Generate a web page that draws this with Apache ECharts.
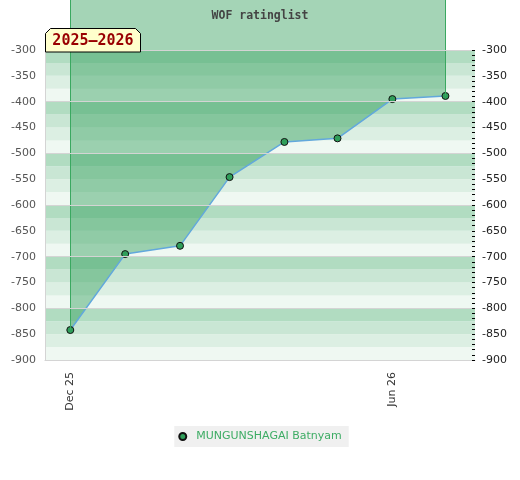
<!DOCTYPE html>
<html>
<head>
<meta charset="utf-8">
<script src="https://cdn.jsdelivr.net/npm/echarts@6/dist/echarts.min.js"></script>
<style>html,body{margin:0;padding:0;background:#fff}#c{width:520px;height:480px}</style>
</head>
<body>
<div id="c"></div>
<script>
// ---- data ----
const seriesName = 'MUNGUNSHAGAI Batnyam';
const chartTitle = 'WOF ratinglist';
const seasonLabel = '2025–2026';
const months = [[2025,11,1],[2026,0,1],[2026,1,1],[2026,2,1],[2026,3,1],[2026,4,1],[2026,5,1],[2026,6,1]];
const ratings = [-842, -695, -679, -546, -478, -471, -395, -389];
const xTickDates = [[2025,11,1],[2026,5,1]];
const xTickLabels = ['Dec 25', 'Jun 26'];
const yLabelValues = [-900,-850,-800,-750,-700,-650,-600,-550,-500,-450,-400,-350,-300];
const bandColors = ['#eff8f2', '#dcefe3', '#c9e6d4', '#b1dcc1'];

// ---- build ----
const ts = d => new Date(d[0], d[1], d[2]).getTime();
const DAY = 86400000;
const xMin = ts(months[0]) - 14.3 * DAY;
const xMax = ts(months[6]) + 46.7 * DAY;
const yMin = -900, yTop = -300;
const yMax = yTop + 50 * (600 / 310);
const points = months.map((m, i) => [ts(m), ratings[i]]);
const xTickTs = xTickDates.map(ts);

const bands = [];
for (let v = yMin, i = 0; v < yTop; v += 25, i++) {
  bands.push([{ yAxis: v, itemStyle: { color: bandColors[i % 4] } }, { yAxis: v + 25 }]);
}
const gridLines = [];
for (let v = yMin; v <= yTop; v += 100) gridLines.push({ yAxis: v });
gridLines.push([{ coord: [xMin, yTop] }, { coord: [xMin, yMin] }]);

const chart = echarts.init(document.getElementById('c'), null, { renderer: 'canvas' });
chart.setOption({
  animation: false,
  textStyle: { fontFamily: 'DejaVu Sans' },
  title: {
    text: chartTitle, left: 'center', top: 5,
    textStyle: { fontFamily: 'DejaVu Sans Mono', fontWeight: 'bold', fontSize: 11.5, color: '#444' }
  },
  grid: [
    { left: 45, right: 45, top: 0, bottom: 120 },
    { left: 45, right: 45, top: 50, bottom: 120 }
  ],
  legend: {
    bottom: 33, left: 'center',
    data: [seriesName],
    icon: 'circle', itemWidth: 13, itemHeight: 7,
    backgroundColor: '#f0f0f0', padding: [4, 7, 4, 4],
    textStyle: { color: '#3dac64', fontSize: 11, lineHeight: 13, padding: [0, 0, 0, 2] }
  },
  xAxis: [
    {
      type: 'value', min: xMin, max: xMax, gridIndex: 0,
      axisLine: { show: true, lineStyle: { color: '#d0d0d0' } },
      axisTick: { show: false },
      splitLine: { show: false },
      axisLabel: {
        customValues: xTickTs, rotate: 90, margin: 12, fontSize: 11, color: '#333',
        formatter: v => { const i = xTickTs.indexOf(v); return i >= 0 ? xTickLabels[i] : ''; }
      }
    },
    { type: 'value', gridIndex: 1, min: 0, max: 1, show: false }
  ],
  yAxis: [
    {
      type: 'value', min: yMin, max: yMax, position: 'left', gridIndex: 0,
      axisLine: { show: false }, axisTick: { show: false }, splitLine: { show: false },
      axisLabel: { customValues: yLabelValues, margin: 9, fontSize: 11, color: '#555' }
    },
    {
      type: 'value', min: yMin, max: yTop, interval: 10, position: 'right', gridIndex: 1, z: 10,
      axisLine: { show: false, onZero: false }, splitLine: { show: false },
      axisTick: { show: true, inside: true, length: 3, lineStyle: { color: '#000' } },
      axisLabel: {
        margin: 7, fontSize: 11, color: '#222',
        formatter: v => (yLabelValues.indexOf(v) >= 0 ? String(v) : '')
      }
    }
  ],
  series: [
    {
      name: seriesName, type: 'line', data: points, z: 3,
      xAxisIndex: 0, yAxisIndex: 0,
      symbol: 'circle', symbolSize: 7,
      itemStyle: { color: '#2f9e5a', borderColor: '#111', borderWidth: 1 },
      lineStyle: { color: '#62a8dc', width: 1.5 },
      areaStyle: { origin: 'end', color: 'rgb(43,156,85)', opacity: 0.43 },
      markArea: { silent: true, z: 1, data: bands },
      markLine: {
        silent: true, symbol: 'none', z: 4, label: { show: false },
        lineStyle: { color: '#3aa860', width: 1, type: 'solid' },
        data: [
          [{ coord: [points[0][0], yMax] }, { coord: points[0] }],
          [{ coord: [points[points.length - 1][0], yMax] }, { coord: points[points.length - 1] }]
        ]
      }
    },
    {
      name: '_grid', type: 'line', data: [], z: 5,
      xAxisIndex: 0, yAxisIndex: 0,
      markLine: {
        silent: true, symbol: 'none', z: 5, label: { show: false },
        lineStyle: { color: '#d4d4d4', width: 1, type: 'solid' },
        data: gridLines
      }
    }
  ],
  graphic: [
    {
      type: 'group', left: 45, top: 28, z: 100,
      children: [
        {
          type: 'polygon', z: 100,
          shape: { points: [[0, 23.5], [0, 5], [5, 0], [90, 0], [95, 5], [95, 23.5]] },
          style: { fill: '#ffffcc', stroke: '#000', lineWidth: 1 }
        },
        {
          type: 'text', x: 47.5, y: 12.5, z: 101,
          style: { text: seasonLabel, fill: '#990000', font: 'bold 15px "DejaVu Sans Mono"', align: 'center', verticalAlign: 'middle' }
        }
      ]
    }
  ]
});
</script>
</body>
</html>
